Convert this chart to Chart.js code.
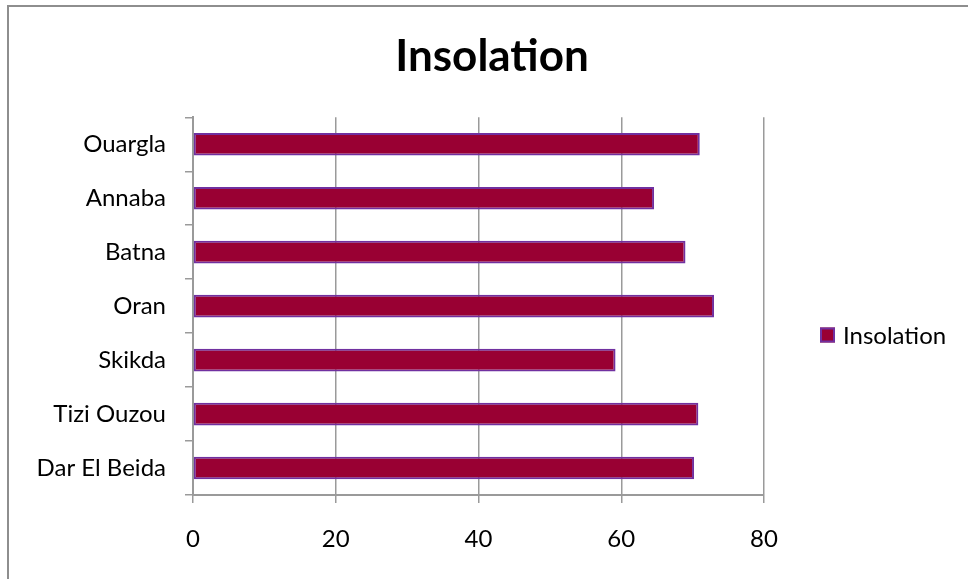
<!DOCTYPE html>
<html>
<head>
<meta charset="utf-8">
<title>Insolation</title>
<script src="https://cdn.jsdelivr.net/npm/chart.js@4/dist/chart.umd.min.js"></script>
<style>
  html, body { margin: 0; padding: 0; background: #ffffff; overflow: hidden; }
  #wrap { position: relative; width: 968px; height: 579px; }
  #frame {
    position: absolute; left: 7px; top: 5px; width: 2000px; height: 2000px;
    border-top: 2px solid #8e8e8e; border-left: 2px solid #8e8e8e;
  }
  #chart { position: absolute; left: 0; top: 0; }
</style>
</head>
<body>
<div id="wrap">
  <div id="frame"></div>
  <canvas id="chart" width="968" height="579"></canvas>
</div>
<script>
// Stations, listed bottom-up as they appear on the category axis
const stations = ['Dar El Beida', 'Tizi Ouzou', 'Skikda', 'Oran', 'Batna', 'Annaba', 'Ouargla'];
// Insolation (%) per station
const insolation = [70.2, 70.8, 59.2, 73.0, 69.0, 64.6, 71.0];
// Value axis ticks
const axisTicks = [0, 20, 40, 60, 80];

const seriesName = 'Insolation';
const barFill = '#990033';
const barEdge = '#7030a0';
const axisGrey = '#9a9a9a';
const fontFamily = 'Lato, "Open Sans", sans-serif';

// Legend entry drawn to the right of the plot, centred below the title
const sideLegend = {
  id: 'sideLegend',
  afterDraw(chart) {
    const ctx = chart.ctx;
    const ds = chart.data.datasets[0];
    const x = 820, yMid = 335, size = 15;
    ctx.save();
    ctx.fillStyle = ds.backgroundColor;
    ctx.fillRect(x, yMid - size / 2, size, size);
    ctx.strokeStyle = ds.borderColor;
    ctx.lineWidth = 2;
    ctx.strokeRect(x + 1, yMid - size / 2 + 1, size - 2, size - 2);
    ctx.fillStyle = '#000000';
    ctx.font = '24px ' + fontFamily;
    ctx.textBaseline = 'middle';
    ctx.textAlign = 'left';
    ctx.fillText(ds.label, x + size + 8, yMid + 1);
    ctx.restore();
  }
};

new Chart(document.getElementById('chart'), {
  type: 'bar',
  data: {
    labels: stations,
    datasets: [{
      label: seriesName,
      data: insolation,
      backgroundColor: barFill,
      borderColor: barEdge,
      borderWidth: 2,
      borderSkipped: false,
      barPercentage: 0.42,
      categoryPercentage: 1.0
    }]
  },
  options: {
    indexAxis: 'y',
    responsive: false,
    animation: false,
    layout: { padding: { left: 16, right: 0, top: 0, bottom: 0 } },
    plugins: {
      legend: { display: false },
      tooltip: { enabled: false },
      title: {
        display: true,
        text: 'Insolation',
        color: '#000000',
        font: { family: fontFamily, size: 44, weight: 'bold' },
        padding: { top: 30, bottom: 34.5 }
      }
    },
    scales: {
      x: {
        type: 'linear',
        position: 'bottom',
        min: axisTicks[0],
        max: axisTicks[axisTicks.length - 1],
        afterBuildTicks(scale) { scale.ticks = axisTicks.map(v => ({ value: v })); },
        afterFit(scale) { scale.height = 84; },
        ticks: {
          color: '#000000',
          font: { family: fontFamily, size: 24 },
          padding: 22
        },
        grid: {
          color: axisGrey,
          lineWidth: 1.5,
          drawOnChartArea: true,
          drawTicks: true,
          tickLength: 8
        },
        border: { display: true, color: axisGrey, width: 2 }
      },
      y: {
        type: 'category',
        position: 'left',
        reverse: true,
        afterFit(scale) { scale.width = 177; },
        ticks: {
          color: '#000000',
          font: { family: fontFamily, size: 24 },
          padding: 19
        },
        grid: {
          offset: true,
          color: axisGrey,
          lineWidth: 1.5,
          drawOnChartArea: false,
          drawTicks: true,
          tickLength: 8
        },
        border: { display: true, color: axisGrey, width: 2 }
      },
      // Reserves the space on the right that holds the legend
      side: {
        type: 'linear',
        position: 'right',
        display: true,
        afterFit(scale) { scale.width = 204; },
        ticks: { display: false },
        grid: { display: false, drawTicks: false },
        border: { display: false }
      }
    }
  },
  plugins: [sideLegend]
});
</script>
</body>
</html>
